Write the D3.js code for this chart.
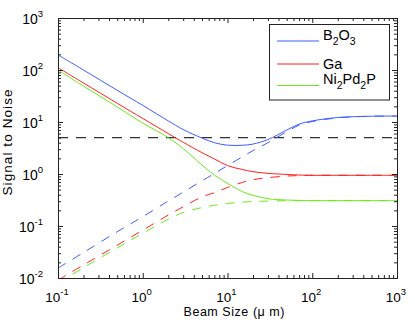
<!DOCTYPE html>
<html>
<head>
<meta charset="utf-8">
<script src="https://cdn.jsdelivr.net/npm/d3@7"></script>
<style>
  body { margin: 0; background: #fff; }
  text { font-family: "Liberation Sans", Arial, Helvetica, sans-serif; fill: #000; }
</style>
</head>
<body>
<svg id="chart" width="415" height="324"></svg>
<script>
// beam size samples (µm) and signal-to-noise
const beamSize = [0.1, 0.2, 0.5, 1, 2, 3, 5, 7, 10, 15, 20, 30, 50, 70, 100, 200, 500, 1000];

const b2o3Solid  = [195, 100, 40.7, 20.9, 10.5, 7.16, 4.9, 4.0, 3.58, 3.57, 3.76, 4.6, 7.0, 9.1, 10.5, 12.2, 12.9, 13.0];
const b2o3Dashed = [0.0155, 0.0309, 0.0776, 0.151, 0.302, 0.447, 0.741, 1.02, 1.45, 2.14, 2.82, 4.0, 6.5, 8.7, 10.2, 12.0, 12.9, 13.0];

const gaSolid  = [110.7, 56.2, 22.9, 11.7, 6.0, 4.07, 2.57, 1.95, 1.45, 1.22, 1.11, 1.03, 0.98, 0.955, 0.944, 0.944, 0.944, 0.944];
const gaDashed = [0.0091, 0.0178, 0.0427, 0.0832, 0.162, 0.234, 0.363, 0.437, 0.55, 0.69, 0.776, 0.851, 0.912, 0.933, 0.944, 0.944, 0.944, 0.944];

const niSolid  = [99.8, 49, 19.5, 9.55, 5.0, 3.09, 1.49, 0.955, 0.66, 0.457, 0.389, 0.335, 0.316, 0.311, 0.307, 0.307, 0.307, 0.307];
const niDashed = [0.0081, 0.0158, 0.038, 0.0724, 0.135, 0.182, 0.226, 0.251, 0.272, 0.288, 0.295, 0.302, 0.306, 0.307, 0.307, 0.307, 0.307, 0.307];

const threshold = 5;

const xDecades = [-1, 0, 1, 2, 3];
const yDecades = [-2, -1, 0, 1, 2, 3];

const series = [
  { name: ["B", "2", "O", "3"], color: "#3d5cff", solid: b2o3Solid, dashed: b2o3Dashed },
  { name: ["Ga"], color: "#ff2020", solid: gaSolid, dashed: gaDashed },
  { name: ["Ni", "2", "Pd", "2", "P"], color: "#6ee81a", solid: niSolid, dashed: niDashed }
];

const svg = d3.select("#chart");
const plotLeft = 58, plotRight = 397, plotTop = 18, plotBottom = 278;

const x = d3.scaleLog().domain([0.1, 1000]).range([plotLeft, plotRight]);
const y = d3.scaleLog().domain([0.01, 1000]).range([plotBottom, plotTop]);

svg.append("defs").append("clipPath").attr("id", "plotclip")
  .append("rect").attr("x", plotLeft).attr("y", plotTop)
  .attr("width", plotRight - plotLeft).attr("height", plotBottom - plotTop);

const plot = svg.append("g").attr("clip-path", "url(#plotclip)");

const line = d3.line()
  .x(d => x(d[0]))
  .y(d => y(d[1]))
  .curve(d3.curveCatmullRom.alpha(0.5));

// threshold line
plot.append("line")
  .attr("x1", plotLeft).attr("x2", plotRight)
  .attr("y1", y(threshold)).attr("y2", y(threshold))
  .attr("stroke", "#333").attr("stroke-width", 1.2)
  .attr("stroke-dasharray", "10,8");

series.forEach(s => {
  plot.append("path")
    .datum(beamSize.map((b, i) => [b, s.dashed[i]]))
    .attr("d", line)
    .attr("fill", "none")
    .attr("stroke", s.color)
    .attr("stroke-width", 1)
    .attr("stroke-dasharray", "9,8");
  plot.append("path")
    .datum(beamSize.map((b, i) => [b, s.solid[i]]))
    .attr("d", line)
    .attr("fill", "none")
    .attr("stroke", s.color)
    .attr("stroke-width", 1);
});

// minor tick values
const minorX = [], minorY = [];
xDecades.slice(0, -1).forEach(e => { for (let k = 2; k < 10; k++) minorX.push(k * Math.pow(10, e)); });
yDecades.slice(0, -1).forEach(e => { for (let k = 2; k < 10; k++) minorY.push(k * Math.pow(10, e)); });
const majorX = xDecades.map(e => Math.pow(10, e));
const majorY = yDecades.map(e => Math.pow(10, e));

function axisStyle(g) {
  g.select(".domain").attr("stroke", "#222");
  g.selectAll(".tick line").attr("stroke", "#222");
  g.selectAll(".tick text").remove();
}

// inward ticks on all four sides
[[d3.axisBottom, x, plotBottom, true], [d3.axisTop, x, plotTop, true],
 [d3.axisLeft, y, plotLeft, false], [d3.axisRight, y, plotRight, false]].forEach(([ax, sc, pos, horiz]) => {
  const tr = horiz ? "translate(0," + pos + ")" : "translate(" + pos + ",0)";
  svg.append("g").attr("transform", tr)
    .call(ax(sc).tickValues(horiz ? majorX : majorY).tickSize(-5).tickFormat(""))
    .call(axisStyle);
  svg.append("g").attr("transform", tr)
    .call(ax(sc).tickValues(horiz ? minorX : minorY).tickSize(-3).tickFormat(""))
    .call(axisStyle);
});

// tick labels 10^n
xDecades.forEach(e => {
  const t = svg.append("text")
    .attr("x", x(Math.pow(10, e)) - 1).attr("y", 301.5)
    .attr("text-anchor", "middle").attr("font-size", 13.5);
  t.append("tspan").text("10");
  t.append("tspan").attr("dy", -7).attr("font-size", 9.5).text(e);
});
yDecades.forEach(e => {
  const t = svg.append("text")
    .attr("x", 43).attr("y", y(Math.pow(10, e)) + 5.5)
    .attr("text-anchor", "end").attr("font-size", 14);
  t.append("tspan").text("10");
  t.append("tspan").attr("dy", -7).attr("font-size", 9.5).text(e);
});

// axis titles
svg.append("text")
  .attr("x", 234).attr("y", 315.5)
  .attr("text-anchor", "middle").attr("font-size", 12.5)
  .attr("textLength", 101).attr("lengthAdjust", "spacing")
  .text("Beam Size (\u03bc m)");
svg.append("text")
  .attr("transform", "translate(12,142.5) rotate(-90)")
  .attr("text-anchor", "middle").attr("font-size", 13.5)
  .attr("textLength", 106).attr("lengthAdjust", "spacing")
  .text("Signal to Noise");

// legend
const legend = svg.append("g");
legend.append("rect")
  .attr("x", 269.5).attr("y", 24.5).attr("width", 120).attr("height", 75.5)
  .attr("fill", "#fff").attr("stroke", "#222").attr("stroke-width", 1);
const legendY = [41, 64, 85.5];
const textY = [39.5, 68.5, 84];
series.forEach((s, i) => {
  legend.append("line")
    .attr("x1", 277).attr("x2", 319)
    .attr("y1", legendY[i]).attr("y2", legendY[i])
    .attr("stroke", s.color).attr("stroke-width", 1);
  const t = legend.append("text")
    .attr("x", 323).attr("y", textY[i]).attr("font-size", 14.5);
  s.name.forEach((part, k) => {
    const sub = k % 2 === 1;
    t.append("tspan")
      .attr("dy", k === 0 ? 0 : (sub ? 5 : -5))
      .attr("font-size", sub ? 10.5 : 14.5)
      .text(part);
  });
});
</script>
</body>
</html>
